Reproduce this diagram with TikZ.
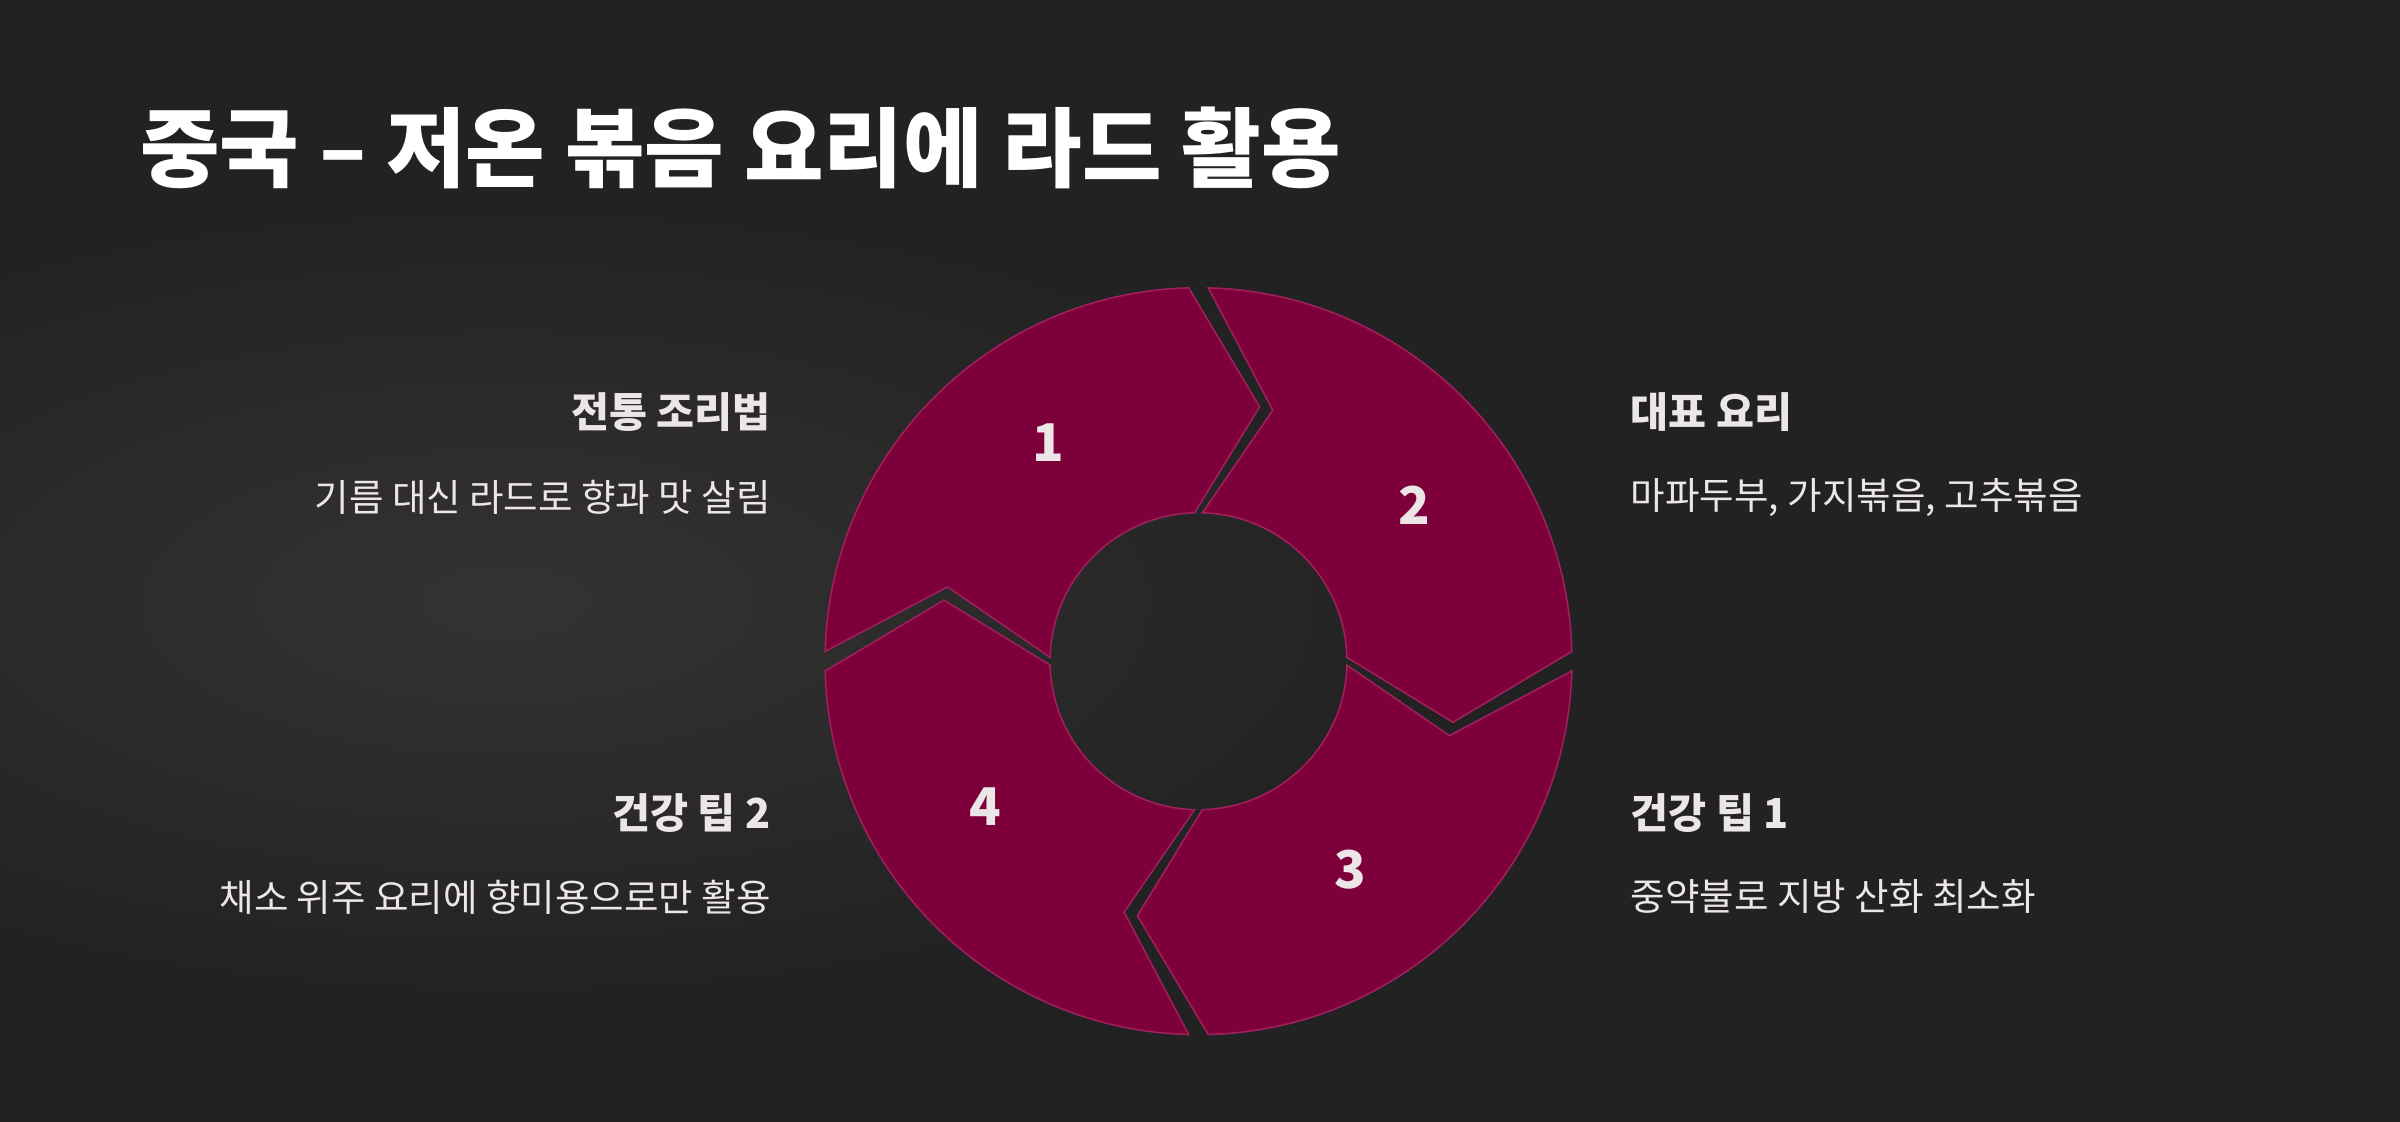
\documentclass[tikz,border=0pt]{standalone}
\usepackage{fontspec}
\setmainfont{Noto Sans CJK KR}
\definecolor{bg}{HTML}{232222}
\definecolor{glow}{HTML}{343332}
\definecolor{seg}{HTML}{7D003B}
\definecolor{segline}{HTML}{A0205E}
\definecolor{txt}{HTML}{ECE6E6}
\begin{document}
\begin{tikzpicture}[x=1pt,y=1pt,
  segstyle/.style={fill=seg,draw=segline,line width=1pt,line join=miter},
  num/.style={text=txt,font=\bfseries\fontsize{34}{40}\selectfont},
  head/.style={text=txt,font=\bfseries\fontsize{27}{30}\selectfont},
  body/.style={text=txt,font=\fontsize{24.5}{28}\selectfont}]
\useasboundingbox (0,0) rectangle (1568,733);
\fill[bg] (0,0) rectangle (1568,733);
\begin{scope}
\clip (0,0) rectangle (1568,733);
\shade[inner color=glow,outer color=bg] (330,340) ellipse[x radius=620,y radius=260];
\end{scope}
\node[anchor=base west,text=white,font=\bfseries\fontsize{56.5}{66}\selectfont] (title) at (88,615) {중국 – 저온 볶음 요리에 라드 활용};
\coordinate (c) at (783,301);
\def\ro{244}\def\ri{97}\def\rm{171}
\foreach \S/\n in {180/a,90/b,0/c,270/d}{
  \pgfmathsetmacro\E{\S-90}
  \filldraw[segstyle,shift={(c)}]
    (\S-1.5:\ro) arc[start angle=\S-1.5,end angle=\E+1.5,radius=\ro]
    -- (\E+1.5-15:\rm) -- (\E+1.5:\ri)
    arc[start angle=\E+1.5,end angle=\S-1.5,radius=\ri]
    -- (\S-1.5-15:\rm) -- cycle;
}
\node[num] (n1) at (685,444) {1};
\node[num] (n2) at (924,403) {2};
\node[num] (n3) at (882,165) {3};
\node[num] (n4) at (644,206) {4};
\node[head,anchor=east] (h1) at (507,464) {전통 조리법};
\node[body,anchor=east] (b1) at (507,408) {기름 대신 라드로 향과 맛 살림};
\node[head,anchor=east] (h4) at (507,202) {건강 팁 2};
\node[body,anchor=east] (b4) at (507,147) {채소 위주 요리에 향미용으로만 활용};
\node[head,anchor=west] (h2) at (1062,464) {대표 요리};
\node[body,anchor=west] (b2) at (1062,408) {마파두부, 가지볶음, 고추볶음};
\node[head,anchor=west] (h3) at (1062,202) {건강 팁 1};
\node[body,anchor=west] (b3) at (1062,147) {중약불로 지방 산화 최소화};
\end{tikzpicture}
\end{document}
